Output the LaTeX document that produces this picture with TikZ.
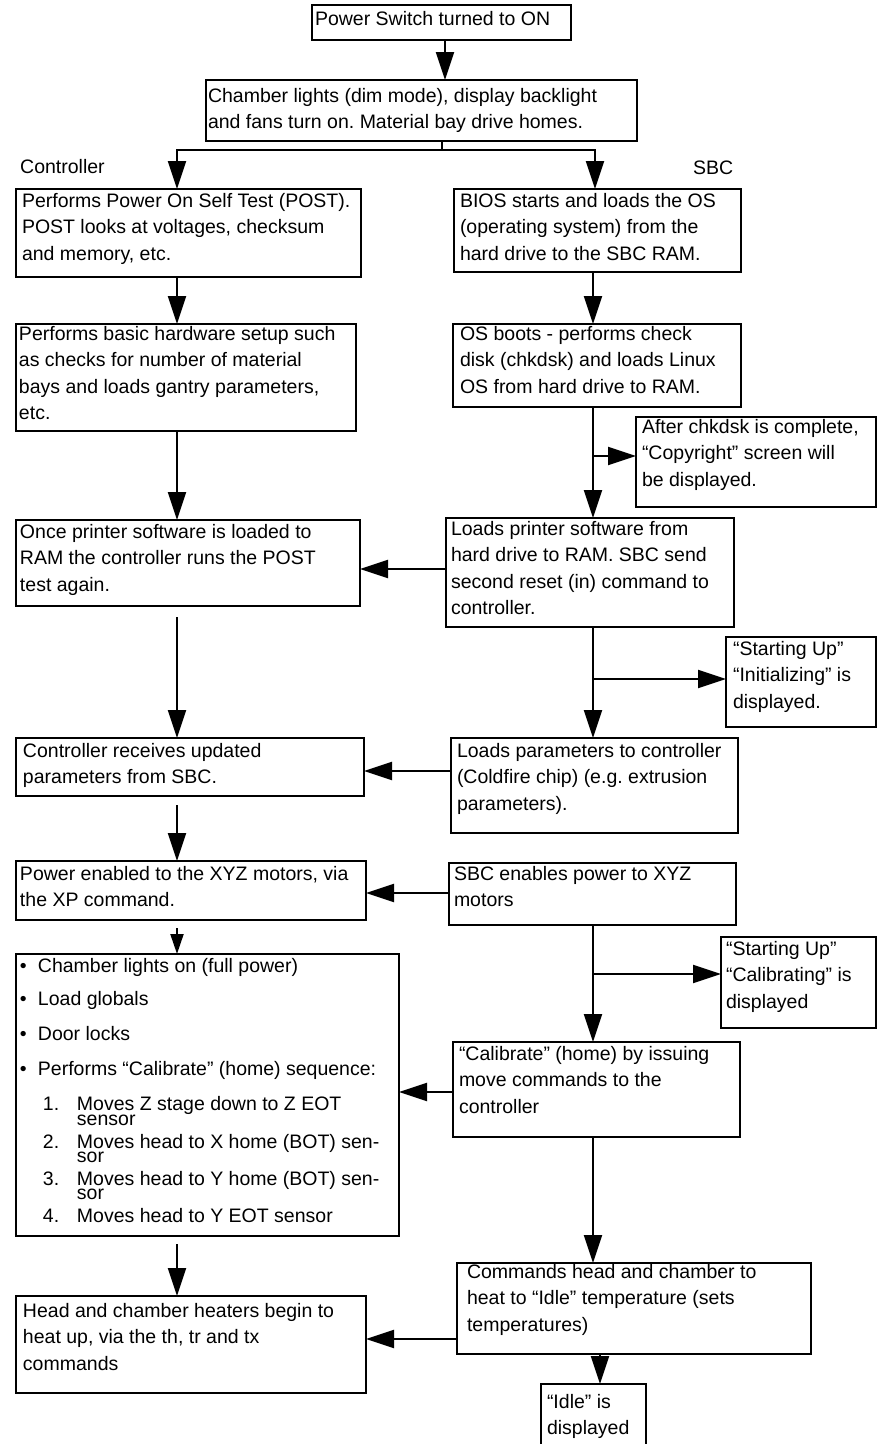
\documentclass[tikz,border=0pt]{standalone}
\usepackage{fontspec}
\setmainfont{Liberation Sans}
\usetikzlibrary{arrows.meta}
\frenchspacing
\newdimen\BLineW
\newdimen\BLinePad
% #1 width, #2 height, #3 left padding, #4 first baseline below top, #5 lines
\newcommand\BoxTxt[5]{\vbox to #2{\hsize=#1\relax\BLinePad=#3\relax
  \BLineW=\dimexpr#1-#3\relax
  \baselineskip=26.5pt\lineskiplimit=-100pt\lineskip=0pt
  \vskip\dimexpr#4-\ht\strutbox\relax #5\vfil}}
\newcommand\BLine[1]{\moveright\BLinePad\hbox to \BLineW{\strut#1\hss}}
\begin{document}
\begin{tikzpicture}[x=1pt,y=-1pt,
  every node/.style={font=\fontsize{19.5pt}{26.5pt}\selectfont},
  box/.style={draw,line width=2.5pt,inner sep=0pt,outer sep=0pt,anchor=north west},
  lbl/.style={inner sep=0pt,anchor=base west},
  conn/.style={line width=2pt},
  arr/.style={line width=2pt,-{Triangle[length=28pt,width=18pt]}},
  sarr/.style={line width=2pt,-{Triangle[length=20pt,width=13pt]}}]
\useasboundingbox (0,0) rectangle (878,1444);

% column x positions
\coordinate (cM) at (445,0);
\coordinate (cL) at (177,0);
\coordinate (cR) at (593,0);
\coordinate (cR2) at (595,0);
\coordinate (cI) at (600,0);

\node[box] (b1) at (312,5) {\BoxTxt{259pt}{35pt}{3pt}{20pt}{\BLine{Power Switch turned to ON}}};
\node[box] (b2) at (206,80) {\BoxTxt{431pt}{61pt}{2pt}{22pt}{%
  \BLine{Chamber lights (dim mode), display backlight}
  \BLine{and fans turn on. Material bay drive homes.}}};

\node[lbl] (lc) at (20,173) {Controller};
\node[lbl] (ls) at (693,174) {SBC};

\node[box] (b3L) at (16,189) {\BoxTxt{345pt}{88pt}{6pt}{18pt}{%
  \BLine{Performs Power On Self Test (POST).}
  \BLine{POST looks at voltages, checksum}
  \BLine{and memory, etc.}}};
\node[box] (b3R) at (454,189) {\BoxTxt{287pt}{83pt}{6pt}{18pt}{%
  \BLine{BIOS starts and loads the OS}
  \BLine{(operating system) from the}
  \BLine{hard drive to the SBC RAM.}}};

\node[box] (b4L) at (16,324) {\BoxTxt{340pt}{107pt}{3pt}{16pt}{%
  \BLine{Performs basic hardware setup such}
  \BLine{as checks for number of material}
  \BLine{bays and loads gantry parameters,}
  \BLine{etc.}}};
\node[box] (b4R) at (453,324) {\BoxTxt{288pt}{83pt}{7pt}{16pt}{%
  \BLine{OS boots - performs check}
  \BLine{disk (chkdsk) and loads Linux}
  \BLine{OS from hard drive to RAM.}}};

\node[box] (bchk) at (636,417) {\BoxTxt{240pt}{90pt}{6pt}{16pt}{%
  \BLine{After chkdsk is complete,}
  \BLine{“Copyright” screen will}
  \BLine{be displayed.}}};

\node[box] (b5L) at (16,520) {\BoxTxt{344pt}{86pt}{4pt}{18pt}{%
  \BLine{Once printer software is loaded to}
  \BLine{RAM the controller runs the POST}
  \BLine{test again.}}};
\node[box] (b5R) at (446,518) {\BoxTxt{288pt}{109pt}{5pt}{17pt}{%
  \BLine{Loads printer software from}
  \BLine{hard drive to RAM. SBC send}
  \BLine{second reset (in) command to}
  \BLine{controller.}}};

\node[box] (binit) at (726,637) {\BoxTxt{150pt}{90pt}{7pt}{18pt}{%
  \BLine{“Starting Up”}
  \BLine{“Initializing” is}
  \BLine{displayed.}}};

\node[box] (b6L) at (16,738) {\BoxTxt{348pt}{58pt}{7pt}{19pt}{%
  \BLine{Controller receives updated}
  \BLine{parameters from SBC.}}};
\node[box] (b6R) at (451,738) {\BoxTxt{287pt}{95pt}{6pt}{19pt}{%
  \BLine{Loads parameters to controller}
  \BLine{(Coldfire chip) (e.g. extrusion}
  \BLine{parameters).}}};

\node[box] (b7L) at (16,861) {\BoxTxt{350pt}{59pt}{4pt}{19pt}{%
  \BLine{Power enabled to the XYZ motors, via}
  \BLine{the XP command.}}};
\node[box] (b7R) at (449,863) {\BoxTxt{287pt}{62pt}{5pt}{17pt}{%
  \BLine{SBC enables power to XYZ}
  \BLine{motors}}};

\node[box] (bcal) at (721,937) {\BoxTxt{155pt}{91pt}{5pt}{18pt}{%
  \BLine{“Starting Up”}
  \BLine{“Calibrating” is}
  \BLine{displayed}}};

\node[box] (b8L) at (16,954) {\BoxTxt{383pt}{282pt}{4pt}{18pt}{%
  \BLine{\makebox[18pt][l]{•}Chamber lights on (full power)}
  \vskip6.5pt
  \BLine{\makebox[18pt][l]{•}Load globals}
  \vskip8.5pt
  \BLine{\makebox[18pt][l]{•}Door locks}
  \vskip8.5pt
  \BLine{\makebox[18pt][l]{•}Performs “Calibrate” (home) sequence:}
  \vskip8.5pt
  \BLine{\hspace{23pt}\makebox[34pt][l]{1.}Moves Z stage down to Z EOT}
  \vskip-11pt
  \BLine{\hspace{57pt}sensor}
  \vskip-4pt
  \BLine{\hspace{23pt}\makebox[34pt][l]{2.}Moves head to X home (BOT) sen-}
  \vskip-12pt
  \BLine{\hspace{57pt}sor}
  \vskip-4pt
  \BLine{\hspace{23pt}\makebox[34pt][l]{3.}Moves head to Y home (BOT) sen-}
  \vskip-12.5pt
  \BLine{\hspace{57pt}sor}
  \vskip-3pt
  \BLine{\hspace{23pt}\makebox[34pt][l]{4.}Moves head to Y EOT sensor}}};
\node[box] (b8R) at (453,1042) {\BoxTxt{287pt}{95pt}{6pt}{18pt}{%
  \BLine{“Calibrate” (home) by issuing}
  \BLine{move commands to the}
  \BLine{controller}}};

\node[box] (b9L) at (16,1296) {\BoxTxt{350pt}{97pt}{7pt}{21pt}{%
  \BLine{Head and chamber heaters begin to}
  \BLine{heat up, via the th, tr and tx}
  \BLine{commands}}};
\node[box] (b9R) at (457,1263) {\BoxTxt{354pt}{91pt}{10pt}{15pt}{%
  \BLine{Commands head and chamber to}
  \BLine{heat to “Idle” temperature (sets}
  \BLine{temperatures)}}};

\node[box] (b10) at (541,1384) {\BoxTxt{105pt}{72pt}{6pt}{24pt}{%
  \BLine{“Idle” is}
  \BLine{displayed}}};

% helper coordinates for branch points and horizontal levels
\coordinate (j) at (442,150);
\coordinate (k1) at (593,456);
\coordinate (k2) at (593,679);
\coordinate (k3) at (593,974);
\coordinate (h5) at (0,569);
\coordinate (h6) at (0,771);
\coordinate (h7) at (0,893);
\coordinate (h8) at (0,1092);
\coordinate (h9) at (0,1339);

% top
\draw[arr] (b1.south -| cM) -- (b2.north -| cM);
\draw[conn] (b2.south -| j) -- (j);
\draw[arr] (j) -| (b3L.north -| cL);
\draw[arr] (j) -| (b3R.north -| cR2);

% left column
\draw[arr] (b3L.south -| cL) -- (b4L.north -| cL);
\draw[arr] (b4L.south -| cL) -- (b5L.north -| cL);
\draw[arr,shorten <=11pt] (b5L.south -| cL) -- (b6L.north -| cL);
\draw[arr,shorten <=9pt] (b6L.south -| cL) -- (b7L.north -| cL);
\draw[sarr,shorten <=8pt] (b7L.south -| cL) -- (b8L.north -| cL);
\draw[arr,shorten <=8pt] (b8L.south -| cL) -- (b9L.north -| cL);

% right column
\draw[arr] (b3R.south -| cR) -- (b4R.north -| cR);
\draw[arr] (b4R.south -| cR) -- (b5R.north -| cR);
\draw[arr] (k1) -- (k1 -| bchk.west);
\draw[arr] (b5R.south -| cR) -- (b6R.north -| cR);
\draw[arr] (k2) -- (k2 -| binit.west);
\draw[arr] (b7R.south -| cR) -- (b8R.north -| cR);
\draw[arr] (k3) -- (k3 -| bcal.west);
\draw[arr] (b8R.south -| cR) -- (b9R.north -| cR);
\draw[arr] (b9R.south -| cI) -- (b10.north -| cI);

% right to left
\draw[arr] (b5R.west |- h5) -- (b5L.east |- h5);
\draw[arr] (b6R.west |- h6) -- (b6L.east |- h6);
\draw[arr] (b7R.west |- h7) -- (b7L.east |- h7);
\draw[arr] (b8R.west |- h8) -- (b8L.east |- h8);
\draw[arr] (b9R.west |- h9) -- (b9L.east |- h9);
\end{tikzpicture}
\end{document}
